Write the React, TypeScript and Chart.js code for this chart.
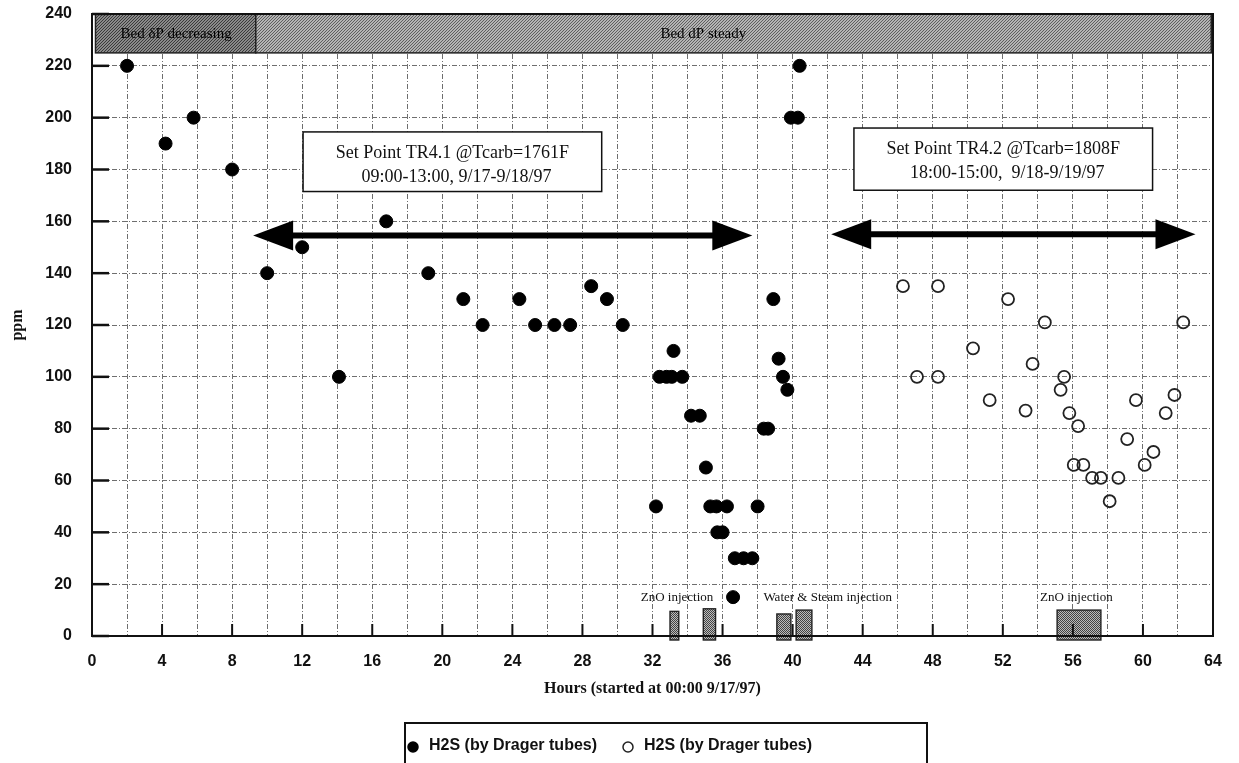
import React, { useEffect, useRef } from 'react';
import { Chart, registerables } from 'chart.js';

Chart.register(...registerables);

// ---- Data (hours since 00:00 9/17/97, ppm) ----
const filledHours = [2.0, 4.2, 5.8, 8.0, 10.0, 12.0, 14.1, 16.8, 19.2, 21.2, 22.3, 24.4, 25.3, 26.4, 27.3, 28.5, 29.4, 30.3, 32.2, 32.4, 32.8, 33.1, 33.2, 33.7, 34.2, 34.7, 35.05, 35.3, 35.65, 35.7, 36.0, 36.25, 36.6, 36.7, 37.2, 37.7, 38.0, 38.35, 38.6, 38.9, 39.2, 39.45, 39.7, 39.9, 40.3, 40.4];
const filledPpm = [220, 190, 200, 180, 140, 150, 100, 160, 140, 130, 120, 130, 120, 120, 120, 135, 130, 120, 50, 100, 100, 100, 110, 100, 85, 85, 65, 50, 50, 40, 40, 50, 15, 30, 30, 30, 50, 80, 80, 130, 107, 100, 95, 200, 200, 220];

const openHours = [46.3, 48.3, 52.3, 54.4, 62.3, 50.3, 53.7, 47.1, 48.3, 55.5, 55.3, 51.25, 59.6, 61.8, 53.3, 55.8, 61.3, 56.3, 59.1, 60.6, 60.1, 56.05, 56.6, 57.1, 57.6, 58.6, 58.1];
const openPpm = [135, 135, 130, 121, 121, 111, 105, 100, 100, 100, 95, 91, 91, 93, 87, 86, 86, 81, 76, 71, 66, 66, 66, 61, 61, 61, 52];

const seriesLabels = ['H2S (by Drager tubes)', 'H2S (by Drager tubes)'];

// Axis
const xMin = 0, xMax = 64, xStep = 2, xLabelEvery = 4;
const yMin = 0, yMax = 240, yStep = 20;
const xTitle = 'Hours (started at 00:00 9/17/97)';
const yTitle = 'ppm';

// Top status bands
const bandStart = [0.2, 9.35];
const bandEnd = [9.35, 63.9];
const bandLabels = ['Bed \u03b4P decreasing', 'Bed dP steady'];
const bandLabelX = [4.8, 34.9];
const bandBottom = 225;
const bandTop = 240;

// Injection windows
const injStart = [33.0, 34.9, 39.1, 40.2, 55.1];
const injEnd = [33.5, 35.6, 39.9, 41.1, 57.6];
const injTop = [9.5, 10.5, 8.5, 10, 10];
const injLabels = ['ZnO injection', 'Water & Steam injection', 'ZnO injection'];
const injLabelX = [33.4, 42.0, 56.2];
const injLabelY = 14.8;

// Set point periods (double arrows) and notes
const arrowStart = [9.2, 42.2];
const arrowEnd = [37.7, 63.0];
const arrowY = [154.5, 155];
const noteX0 = [12.05, 43.5];
const noteX1 = [29.1, 60.55];
const noteYTop = [194.5, 196];
const noteYBot = [171.5, 172];
const noteLine1 = ['Set Point TR4.1 @Tcarb=1761F', 'Set Point TR4.2 @Tcarb=1808F'];
const noteLine2 = ['09:00-13:00, 9/17-9/18/97', '18:00-15:00,  9/18-9/19/97'];

const SERIF = '"Liberation Serif", "Times New Roman", serif';
const SANS = '"Liberation Sans", Arial, sans-serif';

function hatch(ctx: CanvasRenderingContext2D, bg: string, fg: string, s: number) {
  const c = document.createElement('canvas');
  c.width = s; c.height = s;
  const g = c.getContext('2d')!;
  g.fillStyle = bg; g.fillRect(0, 0, s, s);
  g.strokeStyle = fg; g.lineWidth = 1;
  g.beginPath();
  g.moveTo(0, s); g.lineTo(s, 0);
  g.moveTo(-1, 1); g.lineTo(1, -1);
  g.moveTo(s - 1, s + 1); g.lineTo(s + 1, s - 1);
  g.stroke();
  return ctx.createPattern(c, 'repeat')!;
}

function stipple(ctx: CanvasRenderingContext2D) {
  const c = document.createElement('canvas');
  c.width = 2; c.height = 2;
  const g = c.getContext('2d')!;
  g.fillStyle = '#bcbcbc'; g.fillRect(0, 0, 2, 2);
  g.fillStyle = '#444'; g.fillRect(0, 0, 1, 1); g.fillRect(1, 1, 1, 1);
  return ctx.createPattern(c, 'repeat')!;
}

function arrow(ctx: CanvasRenderingContext2D, x1: number, x2: number, y: number) {
  const hl = 40, hw = 15;
  ctx.save();
  ctx.fillStyle = '#000';
  ctx.strokeStyle = '#000';
  ctx.lineWidth = 6;
  ctx.beginPath(); ctx.moveTo(x1 + hl - 4, y); ctx.lineTo(x2 - hl + 4, y); ctx.stroke();
  ctx.beginPath(); ctx.moveTo(x1, y); ctx.lineTo(x1 + hl, y - hw); ctx.lineTo(x1 + hl, y + hw); ctx.closePath(); ctx.fill();
  ctx.beginPath(); ctx.moveTo(x2, y); ctx.lineTo(x2 - hl, y - hw); ctx.lineTo(x2 - hl, y + hw); ctx.closePath(); ctx.fill();
  ctx.restore();
}

const decorPlugin = {
  id: 'decor',
  beforeDatasetsDraw(chart: any) {
    const { ctx } = chart;
    const x = chart.scales.x, y = chart.scales.y;
    ctx.save();
    // bands
    const pats = [hatch(ctx, '#8a8a8a', '#3a3a3a', 3), hatch(ctx, '#b4b4b4', '#5e5e5e', 3)];
    for (let i = 0; i < bandStart.length; i++) {
      const xa = x.getPixelForValue(bandStart[i]);
      const xb = x.getPixelForValue(bandEnd[i]);
      const ya = y.getPixelForValue(bandTop);
      const yb = y.getPixelForValue(bandBottom);
      ctx.fillStyle = pats[i];
      ctx.fillRect(xa, ya, xb - xa, yb - ya);
      ctx.strokeStyle = '#222';
      ctx.lineWidth = 1.5;
      ctx.strokeRect(xa, ya, xb - xa, yb - ya);
      ctx.fillStyle = '#000';
      ctx.font = '15px ' + SERIF;
      ctx.textAlign = 'center';
      ctx.textBaseline = 'middle';
      ctx.fillText(bandLabels[i], x.getPixelForValue(bandLabelX[i]), (ya + yb) / 2 + 1);
    }
    // injection boxes
    const st = stipple(ctx);
    for (let i = 0; i < injStart.length; i++) {
      const xa = x.getPixelForValue(injStart[i]);
      const xb = x.getPixelForValue(injEnd[i]);
      const ya = y.getPixelForValue(injTop[i]);
      const yb = y.getPixelForValue(0) + 4;
      ctx.fillStyle = st;
      ctx.fillRect(xa, ya, xb - xa, yb - ya);
      ctx.strokeStyle = '#222';
      ctx.lineWidth = 1.4;
      ctx.strokeRect(xa, ya, xb - xa, yb - ya);
    }
    ctx.fillStyle = '#111';
    ctx.font = '13px ' + SERIF;
    ctx.textAlign = 'center';
    ctx.textBaseline = 'middle';
    for (let i = 0; i < injLabels.length; i++) {
      ctx.fillText(injLabels[i], x.getPixelForValue(injLabelX[i]), y.getPixelForValue(injLabelY));
    }
    // notes
    for (let i = 0; i < noteX0.length; i++) {
      const xa = x.getPixelForValue(noteX0[i]);
      const xb = x.getPixelForValue(noteX1[i]);
      const ya = y.getPixelForValue(noteYTop[i]);
      const yb = y.getPixelForValue(noteYBot[i]);
      ctx.fillStyle = '#fff';
      ctx.fillRect(xa, ya, xb - xa, yb - ya);
      ctx.strokeStyle = '#111';
      ctx.lineWidth = 1.5;
      ctx.strokeRect(xa, ya, xb - xa, yb - ya);
      ctx.fillStyle = '#111';
      ctx.font = '18px ' + SERIF;
      ctx.textAlign = 'center';
      ctx.textBaseline = 'middle';
      const cx = (xa + xb) / 2;
      ctx.fillText(noteLine1[i], cx, ya + 21);
      ctx.fillText(noteLine2[i], cx + 4, ya + 45);
    }
    // arrows
    for (let i = 0; i < arrowStart.length; i++) {
      arrow(ctx, x.getPixelForValue(arrowStart[i]), x.getPixelForValue(arrowEnd[i]), y.getPixelForValue(arrowY[i]));
    }
    ctx.restore();
  },
  afterDraw(chart: any) {
    const { ctx, chartArea } = chart;
    const x = chart.scales.x, y = chart.scales.y;
    ctx.save();
    // frame
    ctx.strokeStyle = '#111';
    ctx.lineWidth = 2;
    ctx.strokeRect(chartArea.left, chartArea.top, chartArea.right - chartArea.left, chartArea.bottom - chartArea.top);
    // inner tick marks
    ctx.lineWidth = 2.5;
    for (let v = yMin; v <= yMax; v += yStep) {
      const py = y.getPixelForValue(v);
      ctx.beginPath(); ctx.moveTo(chartArea.left, py); ctx.lineTo(chartArea.left + 17, py); ctx.stroke();
    }
    ctx.lineWidth = 2;
    for (let v = xMin; v <= xMax; v += xLabelEvery) {
      const px = x.getPixelForValue(v);
      ctx.beginPath(); ctx.moveTo(px, chartArea.bottom); ctx.lineTo(px, chartArea.bottom - 12); ctx.stroke();
    }
    // legend
    const ds = chart.data.datasets;
    const lx = 405, ly = 723, lw = 522, lh = 48;
    ctx.strokeStyle = '#111';
    ctx.lineWidth = 2;
    ctx.strokeRect(lx, ly, lw, lh);
    ctx.font = 'bold 16px ' + SANS;
    ctx.textAlign = 'left';
    ctx.textBaseline = 'middle';
    const cy = 746;
    const itemX = [lx + 8, lx + 223];
    for (let i = 0; i < ds.length; i++) {
      const d = ds[i];
      ctx.beginPath();
      ctx.arc(itemX[i], cy + 1, 5, 0, Math.PI * 2);
      ctx.fillStyle = d.pointBackgroundColor;
      ctx.fill();
      ctx.lineWidth = 1.5;
      ctx.strokeStyle = d.pointBorderColor;
      ctx.stroke();
      ctx.fillStyle = '#111';
      ctx.fillText(d.label, itemX[i] + 16, cy);
    }
    ctx.restore();
  },
};

export default function App() {
  const ref = useRef<HTMLCanvasElement>(null);
  useEffect(() => {
    document.body.style.margin = '0';
    const ctx = ref.current!.getContext('2d')!;
    const gridColor = '#6e6e6e';
    const chart = new Chart(ctx, {
      type: 'scatter',
      data: {
        datasets: [
          {
            label: seriesLabels[0],
            data: filledHours.map((h, i) => ({ x: h, y: filledPpm[i] })),
            pointRadius: 6.5,
            pointBackgroundColor: '#000',
            pointBorderColor: '#000',
            pointBorderWidth: 1,
          },
          {
            label: seriesLabels[1],
            data: openHours.map((h, i) => ({ x: h, y: openPpm[i] })),
            pointRadius: 6,
            pointBackgroundColor: 'rgba(255,255,255,0)',
            pointBorderColor: '#222',
            pointBorderWidth: 1.8,
          },
        ],
      } as any,
      options: {
        animation: false,
        responsive: true,
        maintainAspectRatio: false,
        layout: { padding: { left: 0, right: 26, top: 14, bottom: 0 } },
        plugins: { legend: { display: false }, tooltip: { enabled: false } },
        scales: {
          x: {
            type: 'linear',
            min: xMin,
            max: xMax,
            grid: { color: gridColor, lineWidth: 1, drawTicks: false },
            border: { display: false, dash: [5, 2, 1, 2] },
            ticks: {
              stepSize: xStep,
              autoSkip: false,
              maxRotation: 0,
              padding: 16,
              color: '#111',
              font: { family: SANS, size: 16, weight: 'bold' },
              callback: (v: any) => (Number(v) % xLabelEvery === 0 ? String(v) : ''),
            },
            title: {
              display: true,
              text: xTitle,
              color: '#111',
              font: { family: SERIF, size: 16, weight: 'bold' },
              padding: { top: 0, bottom: 65 },
            },
            afterFit: (s: any) => { s.height = 127; s.paddingLeft = 0; s.paddingRight = 0; },
          },
          y: {
            type: 'linear',
            min: yMin,
            max: yMax,
            grid: { color: gridColor, lineWidth: 1, drawTicks: false },
            border: { display: false, dash: [5, 2, 1, 2] },
            ticks: {
              stepSize: yStep,
              padding: 20,
              color: '#111',
              font: { family: SANS, size: 16, weight: 'bold' },
            },
            title: {
              display: true,
              text: yTitle,
              color: '#111',
              font: { family: SERIF, size: 16, weight: 'bold' },
              padding: { top: 8, bottom: 0 },
            },
            afterFit: (s: any) => { s.width = 92; s.paddingTop = 0; s.paddingBottom = 0; },
          },
        },
      } as any,
      plugins: [decorPlugin as any],
    });
    return () => chart.destroy();
  }, []);
  return (
    <div style={{ position: 'fixed', left: 0, top: 0, width: 1239, height: 763, background: '#fff' }}>
      <canvas ref={ref} />
    </div>
  );
}
